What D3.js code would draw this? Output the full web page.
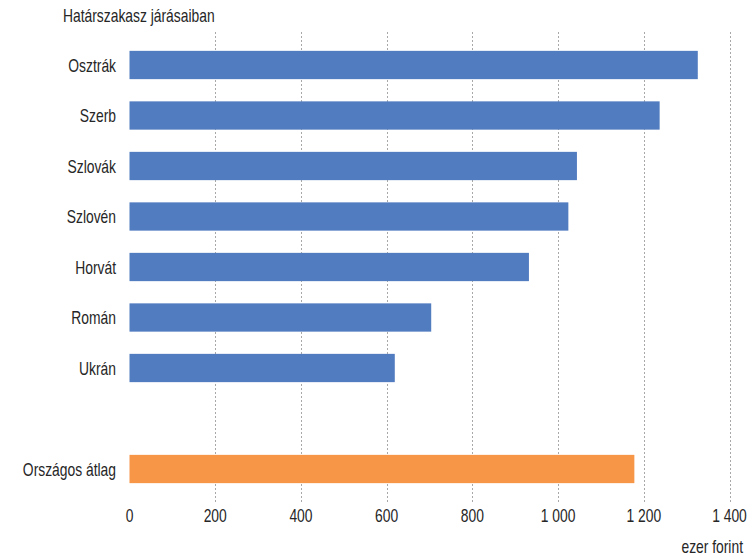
<!DOCTYPE html>
<html><head><meta charset="utf-8">
<script src="https://cdn.jsdelivr.net/npm/d3@7"></script>
<style>
body{margin:0;background:#fff;}
text{font-family:"Liberation Sans","DejaVu Sans",sans-serif;fill:#262626;}
</style></head>
<body><svg id="c" width="755" height="557"></svg>
<script>
const categories = ["Osztrák","Szerb","Szlovák","Szlovén","Horvát","Román","Ukrán","","Országos átlag"];
const values = [1326, 1237, 1044, 1024, 932, 704, 619, null, 1178];
const barColors = ["#517cc0","#517cc0","#517cc0","#517cc0","#517cc0","#517cc0","#517cc0","#517cc0","#f79646"];
const tickValues = [0,200,400,600,800,1000,1200,1400];
const tickLabels = ["0","200","400","600","800","1 000","1 200","1 400"];
const title = "Határszakasz járásaiban";
const unit = "ezer forint";

const FS = 18, SX = 0.77;
const svg = d3.select("#c");
const x = d3.scaleLinear().domain([0,1400]).range([129.5,729.5]);
const y = d3.scaleBand().domain(categories.map((c,i)=>i)).range([39.75,494.25]).paddingInner(0.44).paddingOuter(0.22);

function txt(g, tx, ty, s, anchor){
  return g.append("text").attr("transform",`translate(${tx},${ty}) scale(${SX},1)`)
    .attr("font-size",FS).attr("text-anchor",anchor).text(s);
}

// gridlines
svg.append("g").selectAll("line").data(tickValues.slice(1)).join("line")
  .attr("x1",d=>Math.round(x(d))+0.5).attr("x2",d=>Math.round(x(d))+0.5)
  .attr("y1",32).attr("y2",502)
  .attr("stroke","#a8a8a8").attr("stroke-width",1).attr("stroke-dasharray","2,2");

// bars
svg.append("g").selectAll("rect").data(values.map((v,i)=>({v,i})).filter(d=>d.v!=null)).join("rect")
  .attr("x",x(0)).attr("y",d=>y(d.i)).attr("width",d=>x(d.v)-x(0)).attr("height",y.bandwidth())
  .attr("fill",d=>barColors[d.i]);

// category labels
const gl = svg.append("g");
categories.forEach((c,i)=>{ if(c) txt(gl,116,y(i)+y.bandwidth()/2+6.5,c,"end"); });

// x axis tick labels
const gt = svg.append("g");
tickValues.forEach((v,i)=>txt(gt,x(v),522,tickLabels[i],"middle"));

txt(svg,63,22,title,"start");
txt(svg,743,553,unit,"end");
</script></body></html>
